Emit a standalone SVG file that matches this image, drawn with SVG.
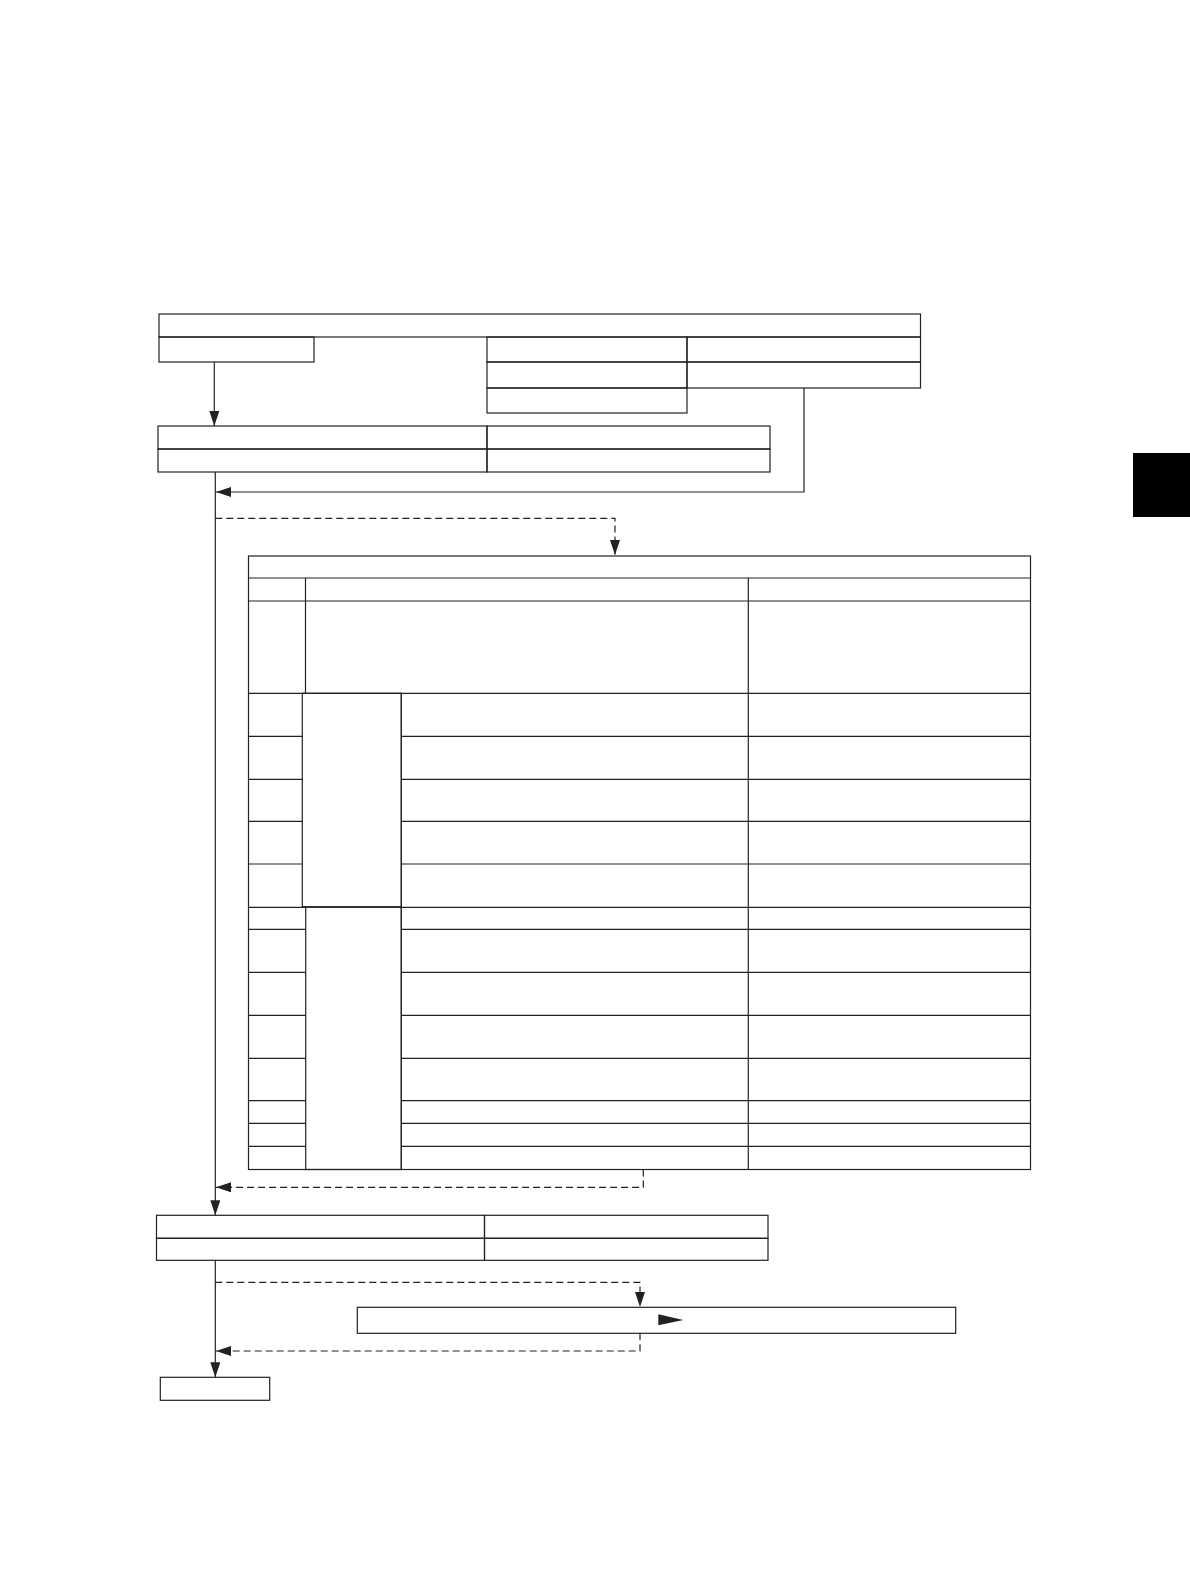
<svg xmlns="http://www.w3.org/2000/svg" width="1190" height="1584" viewBox="0 0 1190 1584">
<style>
.b{fill:none;stroke:#222;stroke-width:1.2}
.c{fill:none;stroke:#222;stroke-width:1.2}
.d{fill:none;stroke:#222;stroke-width:1.2;stroke-dasharray:7 4}
</style>
<defs>
<marker id="ah" markerUnits="userSpaceOnUse" markerWidth="15" markerHeight="10" refX="15" refY="5" orient="auto">
<path d="M0,0 L15,5 L0,10 z" fill="#222"/>
</marker>
</defs>
<rect width="1190" height="1584" fill="#fff"/>
<g id="tab-marker"><rect x="1133" y="453" width="57" height="64" fill="#000"/></g>

<g id="node-top">
<rect class="b" x="159" y="314" width="761.5" height="23"/>
<rect class="b" x="159" y="337" width="155" height="25"/>
<rect class="b" x="487" y="337" width="200" height="25"/>
<rect class="b" x="487" y="362" width="200" height="26"/>
<rect class="b" x="487" y="388" width="200" height="25"/>
<rect class="b" x="687" y="337" width="233.5" height="25"/>
<rect class="b" x="687" y="362" width="233.5" height="26"/>
</g>

<g id="node-second">
<rect class="b" x="158" y="426" width="329" height="23"/>
<rect class="b" x="487" y="426" width="283" height="23"/>
<rect class="b" x="158" y="449" width="329" height="23"/>
<rect class="b" x="487" y="449" width="283" height="23"/>
</g>

<g id="node-table">
<rect class="b" x="248.5" y="556" width="782" height="613.5"/>
<line class="b" x1="248.5" y1="578" x2="1030.5" y2="578"/>
<line class="b" x1="248.5" y1="601" x2="1030.5" y2="601"/>
<line class="b" x1="248.5" y1="693.3" x2="1030.5" y2="693.3"/>
<line class="b" x1="305.5" y1="578" x2="305.5" y2="693.3"/>
<line class="b" x1="748.3" y1="578" x2="748.3" y2="1169.5"/>
<g id="group-1">
<rect class="b" x="302.3" y="693.3" width="99" height="213.4"/>
<line class="b" x1="248.5" y1="736.3" x2="302.3" y2="736.3"/>
<line class="b" x1="248.5" y1="779.3" x2="302.3" y2="779.3"/>
<line class="b" x1="248.5" y1="821.3" x2="302.3" y2="821.3"/>
<line class="b" x1="248.5" y1="864" x2="302.3" y2="864"/>
<line class="b" x1="401.3" y1="736.3" x2="1030.5" y2="736.3"/>
<line class="b" x1="401.3" y1="779.3" x2="1030.5" y2="779.3"/>
<line class="b" x1="401.3" y1="821.3" x2="1030.5" y2="821.3"/>
<line class="b" x1="401.3" y1="864" x2="1030.5" y2="864"/>
</g>
<line class="b" x1="248.5" y1="907.3" x2="305.7" y2="907.3"/>
<line class="b" x1="401.3" y1="907.3" x2="1030.5" y2="907.3"/>
<g id="group-2">
<rect class="b" x="305.7" y="907.3" width="95.6" height="262.2"/>
<line class="b" x1="401.3" y1="693.3" x2="401.3" y2="1169.5"/>
<line class="b" x1="248.5" y1="929.3" x2="305.7" y2="929.3"/>
<line class="b" x1="248.5" y1="972.3" x2="305.7" y2="972.3"/>
<line class="b" x1="248.5" y1="1015.3" x2="305.7" y2="1015.3"/>
<line class="b" x1="248.5" y1="1058.3" x2="305.7" y2="1058.3"/>
<line class="b" x1="248.5" y1="1100.7" x2="305.7" y2="1100.7"/>
<line class="b" x1="248.5" y1="1123.3" x2="305.7" y2="1123.3"/>
<line class="b" x1="248.5" y1="1146.3" x2="305.7" y2="1146.3"/>
<line class="b" x1="401.3" y1="929.3" x2="1030.5" y2="929.3"/>
<line class="b" x1="401.3" y1="972.3" x2="1030.5" y2="972.3"/>
<line class="b" x1="401.3" y1="1015.3" x2="1030.5" y2="1015.3"/>
<line class="b" x1="401.3" y1="1058.3" x2="1030.5" y2="1058.3"/>
<line class="b" x1="401.3" y1="1100.7" x2="1030.5" y2="1100.7"/>
<line class="b" x1="401.3" y1="1123.3" x2="1030.5" y2="1123.3"/>
<line class="b" x1="401.3" y1="1146.3" x2="1030.5" y2="1146.3"/>
</g>
</g>

<g id="node-third">
<rect class="b" x="156.5" y="1215.3" width="328" height="23"/>
<rect class="b" x="484.5" y="1215.3" width="283.5" height="23"/>
<rect class="b" x="156.5" y="1238.3" width="328" height="22"/>
<rect class="b" x="484.5" y="1238.3" width="283.5" height="22"/>
</g>

<g id="node-fourth">
<rect class="b" x="357.3" y="1307.3" width="598.4" height="26"/>
<path d="M658.3,1314.3 L683.3,1320 L658.3,1325.3 z" fill="#222"/>
</g>

<g id="node-end">
<rect class="b" x="160.3" y="1377.3" width="109.4" height="23"/>
</g>

<g id="connectors">
<line class="c" x1="214.3" y1="362" x2="214.3" y2="426" marker-end="url(#ah)"/>
<line class="c" x1="215.3" y1="472" x2="215.3" y2="1215.3" marker-end="url(#ah)"/>
<polyline class="c" points="804,388 804,492 216,492" marker-end="url(#ah)"/>
<polyline class="d" points="215.3,518.3 615,518.3 615,555" marker-end="url(#ah)"/>
<polyline class="d" points="643.3,1169.5 643.3,1187.3 216,1187.3" marker-end="url(#ah)"/>
<line class="c" x1="215.3" y1="1260.3" x2="215.3" y2="1377.3" marker-end="url(#ah)"/>
<polyline class="d" points="215.3,1282.3 640,1282.3 640,1307" marker-end="url(#ah)"/>
<polyline class="d" points="640,1333.3 640,1351 216,1351" marker-end="url(#ah)"/>
</g>
</svg>
